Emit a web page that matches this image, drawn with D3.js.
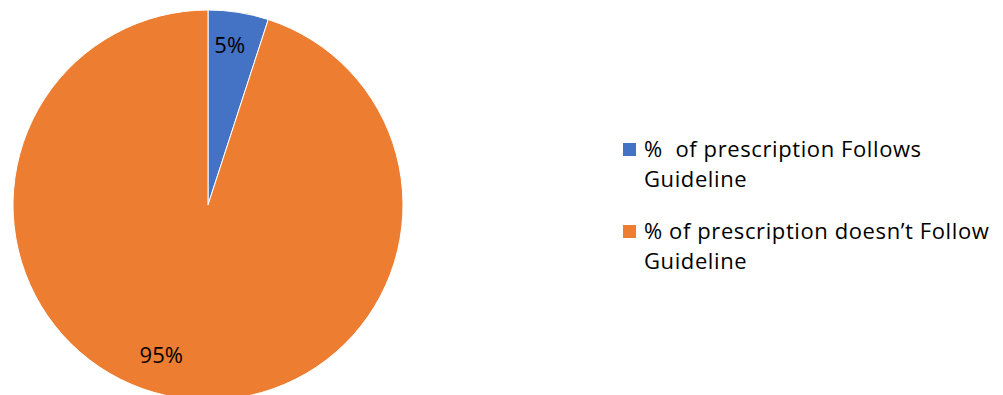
<!DOCTYPE html>
<html>
<head>
<meta charset="utf-8">
<script src="https://cdn.jsdelivr.net/npm/d3@7.9.0/dist/d3.min.js"></script>
<style>
  body { margin: 0; background: #fff; }
  svg { display: block; font-family: "Open Sans", Lato, sans-serif; }
  text { white-space: pre; }
</style>
</head>
<body>
<svg id="chart" width="1003" height="395"></svg>
<script>
const categories = ["% of prescription Follows Guideline", "% of prescription doesn\u2019t Follow Guideline"];
const legendLines = [["%  of prescription Follows", "Guideline"], ["% of prescription doesn\u2019t Follow", "Guideline"]];
const values = [5, 95];
const colors = ["#4472C4", "#ED7D31"];

const svg = d3.select("#chart");
const cx = 208, cy = 205, radius = 195;

const color = d3.scaleOrdinal().domain(categories).range(colors);
const data = categories.map((c, i) => ({ name: c, value: values[i] }));

const pie = d3.pie().value(d => d.value).sort(null);
const arc = d3.arc().innerRadius(0).outerRadius(radius);
const labelArc = d3.arc().innerRadius(158).outerRadius(158);

const g = svg.append("g").attr("transform", `translate(${cx},${cy})`);
const arcs = pie(data);

g.selectAll("path")
  .data(arcs)
  .enter()
  .append("path")
  .attr("d", arc)
  .attr("fill", d => color(d.data.name))
  .attr("stroke", "#fff")
  .attr("stroke-width", 1);

// Excel nudges the big slice's label a bit further round
g.selectAll("text")
  .data(arcs)
  .enter()
  .append("text")
  .attr("transform", (d, i) => {
    const [x, y] = labelArc.centroid(d);
    return i === 1 ? `translate(${x - 22},${y - 6})` : `translate(${x - 3},${y - 4})`;
  })
  .attr("text-anchor", "middle")
  .attr("dy", "0.35em")
  .style("font-size", "22px")
  .style("fill", "#000")
  .text(d => `${d.data.value}%`);

// legend
const legend = svg.append("g").attr("transform", "translate(623,143)");
const item = legend.selectAll("g")
  .data(categories)
  .enter()
  .append("g")
  .attr("transform", (d, i) => `translate(0,${i * 82})`);

item.append("rect")
  .attr("width", 13)
  .attr("height", 13)
  .attr("fill", d => color(d));

item.append("text")
  .attr("x", 21)
  .attr("y", 14)
  .style("font-size", "22px")
  .style("letter-spacing", "0.6px")
  .style("fill", "#000")
  .selectAll("tspan")
  .data((d, i) => legendLines[i])
  .enter()
  .append("tspan")
  .attr("x", 21)
  .attr("dy", (d, j) => j === 0 ? 0 : 30)
  .text(d => d);
</script>
</body>
</html>
